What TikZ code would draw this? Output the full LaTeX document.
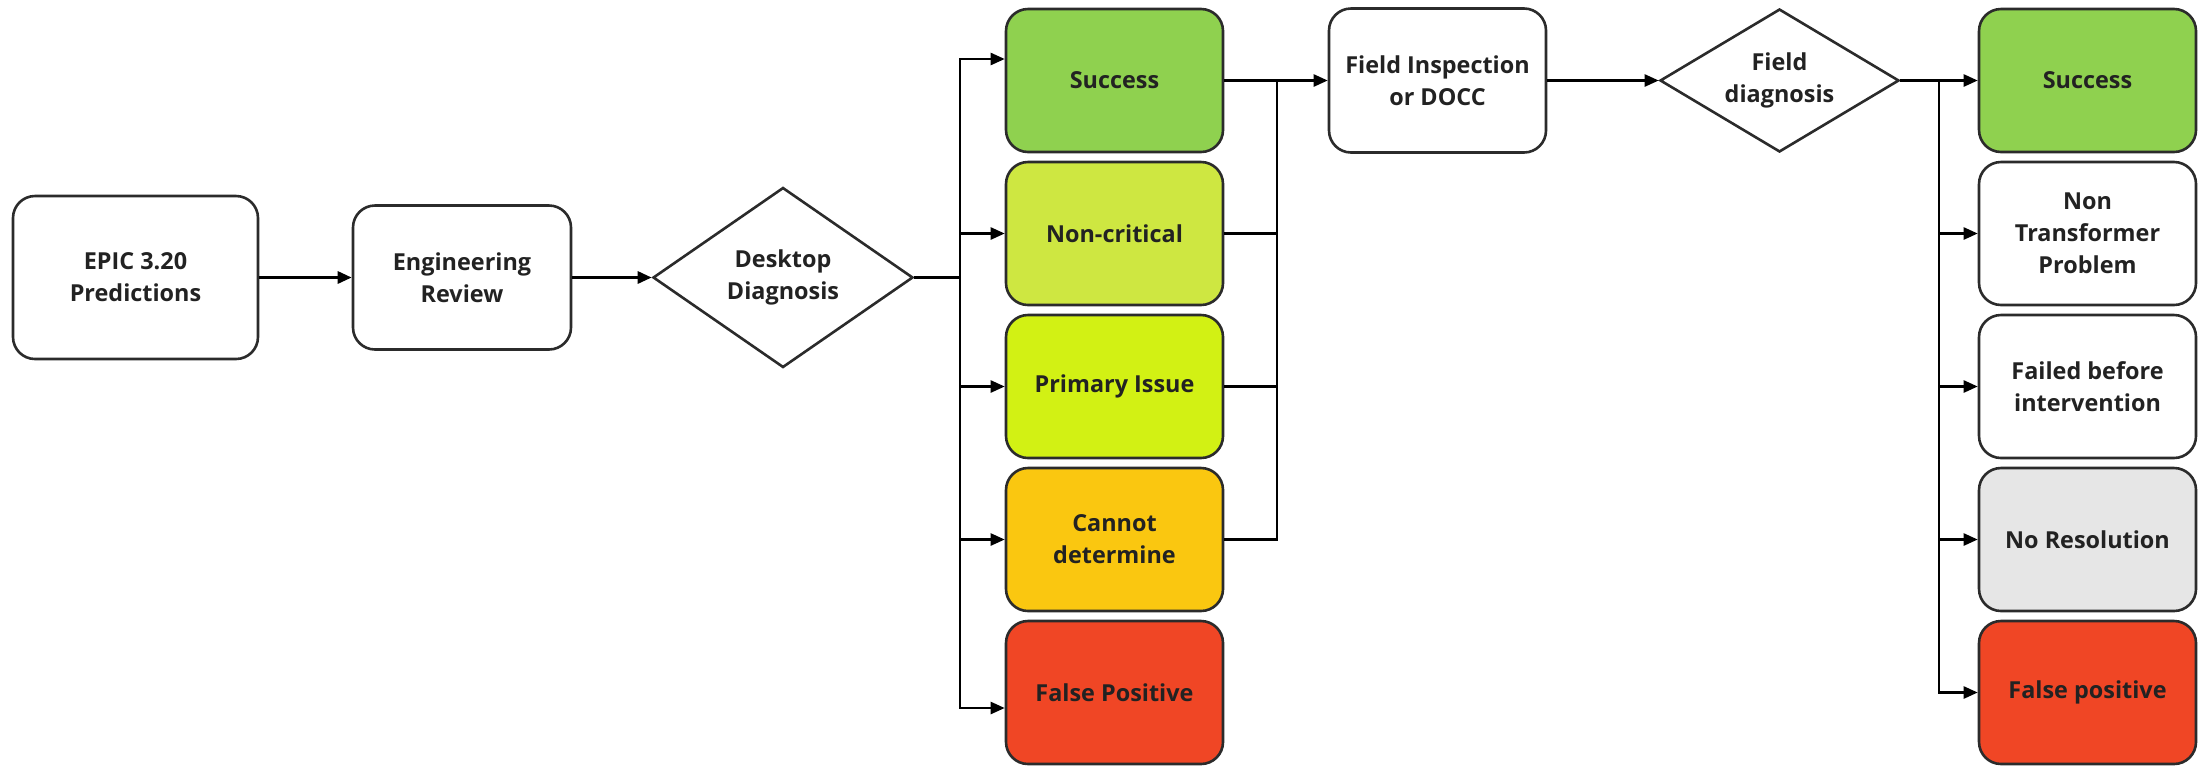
\documentclass[tikz,border=0pt]{standalone}
\usepackage{fontspec}
\setmainfont{Open Sans}
\usetikzlibrary{shapes.geometric,arrows.meta,calc}
\definecolor{txt}{HTML}{222222}
\definecolor{bord}{HTML}{2B2B2B}
\definecolor{cgreen}{HTML}{8FD14F}
\definecolor{clime}{HTML}{CEE741}
\definecolor{cyell}{HTML}{D2F114}
\definecolor{corange}{HTML}{FAC710}
\definecolor{cred}{HTML}{F04625}
\definecolor{cgrey}{HTML}{E6E6E6}
\tikzset{
  box/.style={draw=bord, line width=1.3pt, rounded corners=11pt, fill=white,
    align=center, inner sep=2pt, text=txt,
    font=\fontsize{11.7}{16}\selectfont\bfseries,
    minimum width=108.5pt, minimum height=71.5pt},
  dia/.style={draw=bord, line width=1.3pt, diamond, fill=white, inner sep=0pt,
    align=center, text=txt, font=\fontsize{11.7}{16}\selectfont\bfseries},
  arr/.style={draw=black, line width=1.2pt, -{Triangle[length=7pt,width=6pt]}},
  ln/.style={draw=black, line width=1.2pt},
  thick arr/.style={draw=black, line width=1.5pt, -{Triangle[length=7pt,width=6pt]}}
}
\begin{document}
\begin{tikzpicture}[x=0.5pt,y=-0.5pt]
\useasboundingbox (0,0) rectangle (2203,767);
% main flow
\node[box, minimum width=122.5pt, minimum height=81.5pt] (epic) at (135.5,277.5) {EPIC 3.20\\Predictions};
\node[box, minimum width=109pt, minimum height=72pt] (eng) at (462,277.5) {Engineering\\Review};
\node[dia, aspect=1.44, minimum width=130pt, minimum height=90pt] (dd) at (783,277.5) {Desktop\\Diagnosis};
% left column
\node[box, fill=cgreen] (ls) at (1114.5,80.5) {Success};
\node[box, fill=clime] (lnc) at (1114.5,233.5) {Non-critical};
\node[box, fill=cyell] (lpi) at (1114.5,386.5) {Primary Issue};
\node[box, fill=corange] (lcd) at (1114.5,539.5) {Cannot\\determine};
\node[box, fill=cred] (lfp) at (1114.5,692.5) {False Positive};
% field
\node[box, minimum height=72pt] (fi) at (1437.5,80.5) {Field Inspection\\or DOCC};
\node[dia, aspect=1.67, minimum width=119.5pt, minimum height=71.5pt] (fd) at (1779.5,80.5) {Field\\diagnosis};
% right column
\node[box, fill=cgreen] (rs) at (2087.5,80.5) {Success};
\node[box] (rnt) at (2087.5,233.5) {Non\\Transformer\\Problem};
\node[box] (rfb) at (2087.5,386.5) {Failed before\\intervention};
\node[box, fill=cgrey] (rnr) at (2087.5,539.5) {No Resolution};
\node[box, fill=cred] (rfp) at (2087.5,692.5) {False positive};
% junctions
\coordinate (jL) at (960,277.5);
\coordinate (jM) at (1277,80.5);
\coordinate (jR) at (1939,80.5);
% connectors
\draw[thick arr] (epic) -- (eng);
\draw[thick arr] (eng) -- (dd);
\draw[ln, line width=1.5pt] (dd.east) -- (jL);
\draw[arr] (jL) |- ($(ls.west)+(0,-21.5)$);
\draw[arr] (jL) |- (lnc.west);
\draw[arr] (jL) |- (lpi.west);
\draw[arr] (jL) |- (lcd.west);
\draw[arr] (jL) |- ($(lfp.west)+(0,15.5)$);
\draw[ln] (ls.east) -- (jM);
\draw[ln] (lnc.east) -| (jM);
\draw[ln] (lpi.east) -| (jM);
\draw[ln] (lcd.east) -| (jM);
\draw[arr] (jM) -- (jM -| fi.west);
\draw[arr] (fi) -- (fd);
\draw[ln] (fd.east) -- (jR);
\draw[arr] (jR) -- (rs.west);
\draw[arr] (jR) |- (rnt.west);
\draw[arr] (jR) |- (rfb.west);
\draw[arr] (jR) |- (rnr.west);
\draw[arr] (jR) |- (rfp.west);
\end{tikzpicture}
\end{document}
